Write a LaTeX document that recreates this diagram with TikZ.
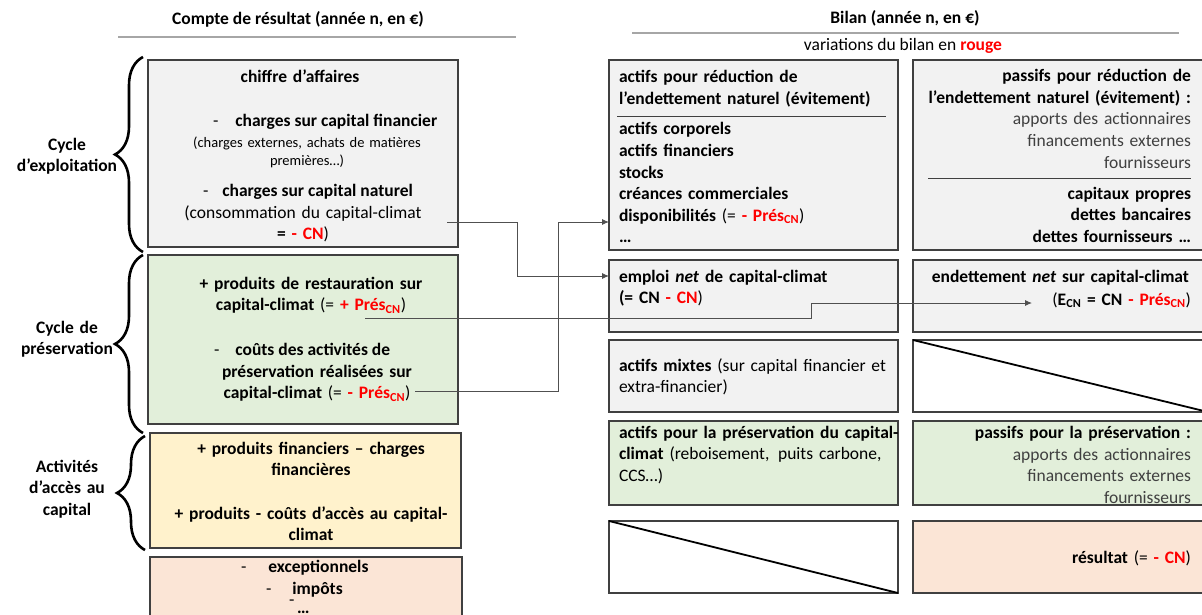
\documentclass[tikz,border=0pt]{standalone}
\usepackage{fontspec}
\setmainfont{Carlito}
\usetikzlibrary{arrows.meta,decorations.pathreplacing}

\definecolor{boxgray}{HTML}{F2F2F2}
\definecolor{boxgreen}{HTML}{E2EFDA}
\definecolor{boxyellow}{HTML}{FFF2CC}
\definecolor{boxpink}{HTML}{FBE5D6}
\definecolor{edgecol}{HTML}{404040}
\definecolor{varred}{HTML}{FF0000}
\definecolor{softtext}{HTML}{404040}
\definecolor{rulecol}{HTML}{A6A6A6}
\definecolor{linkcol}{HTML}{505050}

% red, bold quantities that change in the balance sheet
\newcommand{\rv}[1]{\textcolor{varred}{\bfseries #1}}
\newcommand{\presCN}{Prés\textsubscript{CN}}
\newcommand{\bodyfont}{\fontsize{17.5}{21.6}\selectfont}
\newcommand{\smallnote}{\fontsize{14.5}{18}\selectfont}

\tikzset{
  panel/.style={draw=edgecol, line width=1.3pt, inner sep=0pt, outer sep=0pt, anchor=north west},
  crossed/.style={panel, fill=white},
  txt/.style={inner sep=0pt, outer sep=0pt, font=\bodyfont},
  txtc/.style={txt, anchor=base, text width=320pt, align=center},
  txtl/.style={txt, anchor=base west, text width=290pt, align=left},
  txtr/.style={txt, anchor=base east, text width=290pt, align=right},
  headrule/.style={draw=rulecol, line width=1.5pt},
  innerrule/.style={draw=edgecol, line width=0.8pt},
  link/.style={draw=linkcol, line width=0.9pt, -{Latex[length=7pt,width=6pt]}},
  bracket/.style={draw=black, line width=2.6pt, decorate,
    decoration={brace, amplitude=28pt, aspect=0.5}},
}

\begin{document}
\begin{tikzpicture}[x=1pt, y=-1pt]
\useasboundingbox (0,0) rectangle (1202,615);

% ---------- column headings ----------
\node[txt, anchor=base, font=\bodyfont\bfseries] (crTitle) at (298,25) {Compte de résultat (année n, en €)};
\draw[headrule] (118,37) -- (516,37);
\node[txt, anchor=base, font=\bodyfont\bfseries] (blTitle) at (905,24) {Bilan (année n, en €)};
\draw[headrule] (632,33) -- (1179,33);
\node[txt, anchor=base] (blNote) at (903,51) {variations du bilan en \rv{rouge}};

% ---------- income statement panels ----------
\node[panel, fill=boxgray,   minimum width=310, minimum height=187] (crExpl) at (148,60)  {};
\node[panel, fill=boxgreen,  minimum width=310, minimum height=169] (crPres) at (148,255) {};
\node[panel, fill=boxyellow, minimum width=311, minimum height=115] (crAcc)  at (150,433) {};
\node[panel, fill=boxpink,   minimum width=312, minimum height=80]  (crExc)  at (150,557) {};

% operating cycle
\node[txtc, font=\bodyfont\bfseries] (caText) at (300,83) {chiffre d’affaires};
\node[txt, anchor=base west, font=\bodyfont\bfseries] (chFin) at (213,127) {{\mdseries -}\hspace{17pt}charges sur capital financier};
\node[txtc, font=\smallnote] (chFinNote) at (307,147) {(charges externes, achats de matières\\premières…)};
\node[txt, anchor=base west, font=\bodyfont\bfseries] (chNat) at (203,196) {{\mdseries -}\hspace{14pt}charges sur capital naturel};
\node[txtc] (chNatNote) at (303,218) {(consommation du capital-climat\\\textbf{=} \rv{- CN})};

% preservation cycle
\node[txtc, font=\bodyfont\bfseries] (restText) at (311,289) {+ produits de restauration sur\\capital-climat {\mdseries (=} \rv{+ \presCN}{\mdseries )}};
\node[txt, anchor=base west, font=\bodyfont\bfseries] (coutDash) at (214,355) {{\mdseries -}\hspace{16pt}coûts des activités de};
\node[txtc, font=\bodyfont\bfseries] (coutText) at (317,377) {préservation réalisées sur\\capital-climat {\mdseries (=} \rv{- \presCN}{\mdseries )}};

% access to capital
\node[txtc, font=\bodyfont\bfseries] (finText) at (311,454) {+ produits financiers – charges\\financières};
\node[txtc, font=\bodyfont\bfseries] (accText) at (311,519) {+ produits - coûts d’accès au capital-\\climat};

% exceptional items
\node[txt, anchor=base west, font=\bodyfont\bfseries] (excText) at (241,572) {{\mdseries -}\hspace{22pt}exceptionnels};
\node[txt, anchor=base west, font=\bodyfont\bfseries] (impText) at (266,594) {{\mdseries -}\hspace{21pt}impôts};
\node[txt, anchor=base west] (etcDash) at (289,605) {-};
\node[txt, anchor=base west, font=\bodyfont\bfseries] (etcText) at (297,613) {…};

% ---------- cycle brackets and their labels ----------
\draw[bracket] (143,252) -- (143,57);
\draw[bracket] (143,433) -- (143,255);
\draw[bracket] (145,550) -- (145,436);
\node[txtc, text width=140pt, font=\bodyfont\bfseries] (lbExpl) at (67,150) {Cycle\\d’exploitation};
\node[txtc, text width=140pt, font=\bodyfont\bfseries] (lbPres) at (67,333) {Cycle de\\préservation};
\node[txtc, text width=140pt, font=\bodyfont\bfseries] (lbAcc)  at (67,472) {Activités\\d’accès au\\capital};

% ---------- balance sheet panels ----------
\node[panel, fill=boxgray,  minimum width=289, minimum height=190] (actRed)  at (609,60)  {};
\node[panel, fill=boxgray,  minimum width=295, minimum height=190] (pasRed)  at (913,60)  {};
\node[panel, fill=boxgray,  minimum width=289, minimum height=72]  (actNet)  at (609,260) {};
\node[panel, fill=boxgray,  minimum width=295, minimum height=72]  (pasNet)  at (913,260) {};
\node[panel, fill=boxgray,  minimum width=289, minimum height=72]  (actMix)  at (609,340) {};
\node[crossed,              minimum width=295, minimum height=72]  (pasMix)  at (913,340) {};
\node[panel, fill=boxgreen, minimum width=289, minimum height=84]  (actPres) at (609,421) {};
\node[panel, fill=boxgreen, minimum width=295, minimum height=84]  (pasPres) at (913,421) {};
\node[crossed,              minimum width=289, minimum height=72]  (actRes)  at (609,521) {};
\node[panel, fill=boxpink,  minimum width=295, minimum height=72]  (pasRes)  at (913,521) {};

% empty cells are struck through
\draw[line width=1.8pt] (pasMix.north west) -- (pasMix.south east);
\draw[line width=1.8pt] (actRes.north west) -- (actRes.south east);

% avoidance assets / liabilities
\node[txtl, font=\bodyfont\bfseries] (actRedHead) at (619,83) {actifs pour réduction de\\l’endettement naturel (évitement)};
\draw[innerrule] (617,116) -- (886,116);
\node[txtl, font=\bodyfont\bfseries] (actRedList) at (619,135) {actifs corporels\\actifs financiers\\stocks\\créances commerciales\\disponibilités {\mdseries (=} \rv{- \presCN}{\mdseries )}\\…};

\node[txtr, font=\bodyfont\bfseries] (pasRedHead) at (1191,82) {passifs pour réduction de\\l’endettement naturel (évitement) :};
\node[txtr, text=softtext] (pasRedList) at (1191,125) {apports des actionnaires\\financements externes\\fournisseurs};
\draw[innerrule] (928,178) -- (1191,178);
\node[txtr, font=\bodyfont\bfseries] (pasRedEq) at (1191,199) {capitaux propres\\dettes bancaires\\dettes fournisseurs …};

% net climate capital
\node[txtl, font=\bodyfont\bfseries] (actNetText) at (619,282) {emploi \textit{net} de capital-climat\\(= CN \rv{- CN}{\mdseries )}};
\node[txtr, font=\bodyfont\bfseries] (pasNetHead) at (1189,282) {endettement \textit{net} sur capital-climat};
\node[txtr, font=\bodyfont\bfseries] (pasNetEq) at (1191,305) {{\mdseries (}E\textsubscript{CN} = CN \rv{- \presCN}{\mdseries )}};

% mixed assets
\node[txtl] (actMixText) at (619,371) {\textbf{actifs mixtes} (sur capital financier et\\extra-financier)};

% preservation assets / liabilities
\node[txtl] (actPresText) at (619,438) {\textbf{actifs pour la préservation du capital-}\\\textbf{climat} (reboisement,\, puits carbone,\\CCS…)};
\node[txtr, font=\bodyfont\bfseries] (pasPresHead) at (1191,438) {passifs pour la préservation :};
\node[txtr, text=softtext] (pasPresList) at (1191,460) {apports des actionnaires\\financements externes\\fournisseurs};

% result
\node[txtr] (pasResText) at (1191,563) {\textbf{résultat} (= \rv{- CN})};

% ---------- links from the income statement to the balance sheet ----------
\coordinate (cnFrom)    at (447,222);
\coordinate (cnTo)      at (609,276);
\coordinate (presFrom)  at (415,391);
\coordinate (presTo)    at (609,222);
\coordinate (restFrom)  at (365,318);
\coordinate (restTo)    at (1032,303);

\draw[link] (cnFrom) -| (517,276) -- (cnTo);
\draw[link] (presFrom) -| (558,222) -- (presTo);
\draw[link] (restFrom) -| (811,303) -- (restTo);
\end{tikzpicture}
\end{document}
